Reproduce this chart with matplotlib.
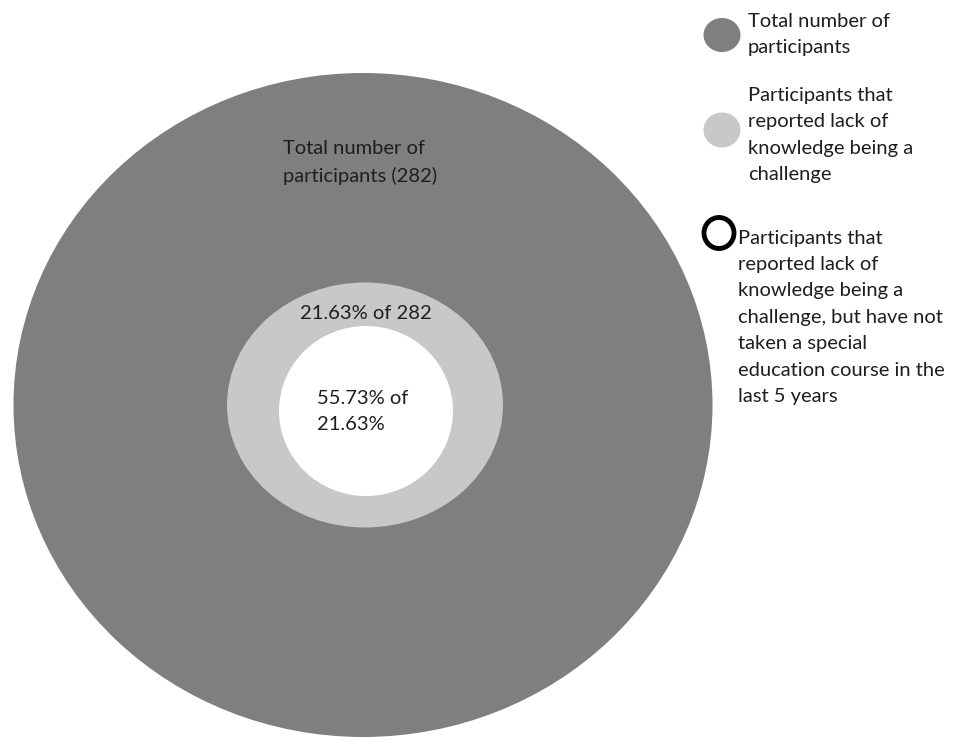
import matplotlib.pyplot as plt
from matplotlib.patches import Ellipse

# values
total_participants = 282
pct_lack_knowledge = 21.63
pct_no_course = 55.73

legend_labels = [
    "Total number of\nparticipants",
    "Participants that\nreported lack of\nknowledge being a\nchallenge",
    "Participants that\nreported lack of\nknowledge being a\nchallenge, but have not\ntaken a special\neducation course in the\nlast 5 years",
]

DARK = "#7f7f7f"
LIGHT = "#c8c8c8"
TXT = "#1e1e1e"

plt.rcParams['font.family'] = ['Lato', 'DejaVu Sans']

fig = plt.figure(figsize=(9.54, 7.42), dpi=100)
ax = fig.add_axes([0, 0, 1, 1])
ax.set_xlim(0, 954)
ax.set_ylim(742, 0)
ax.axis('off')

# nested circles (pixel layout)
ax.add_patch(Ellipse((363, 405), 699, 664, color=DARK, lw=0))
ax.add_patch(Ellipse((365, 405), 276, 245, color=LIGHT, lw=0))
ax.add_patch(Ellipse((366, 411), 174, 170, color="white", lw=0))

# multi-line texts: y is the baseline of the last line
fs = 14.5
ls = 1.67
ax.text(283, 182, f"Total number of\nparticipants ({total_participants})",
        fontsize=fs, color=TXT, ha='left', va='baseline', linespacing=ls)
ax.text(300, 319, f"{pct_lack_knowledge}% of {total_participants}",
        fontsize=fs, color=TXT, ha='left', va='baseline')
ax.text(317, 430, f"{pct_no_course}% of\n{pct_lack_knowledge}%",
        fontsize=fs, color=TXT, ha='left', va='baseline', linespacing=ls)

# legend
ax.add_patch(Ellipse((722, 35), 37, 34, color=DARK, lw=0))
ax.add_patch(Ellipse((722, 130), 37, 35, color=LIGHT, lw=0))
ax.add_patch(Ellipse((719, 233), 30, 31, facecolor="white", edgecolor="black", lw=3.5))

ax.text(748, 53, legend_labels[0], fontsize=fs, color=TXT, ha='left', va='baseline', linespacing=ls)
ax.text(748, 180, legend_labels[1], fontsize=fs, color=TXT, ha='left', va='baseline', linespacing=ls)
ax.text(738, 402, legend_labels[2], fontsize=fs, color=TXT, ha='left', va='baseline', linespacing=ls)

fig.savefig("out.png", dpi=100, facecolor="white")
